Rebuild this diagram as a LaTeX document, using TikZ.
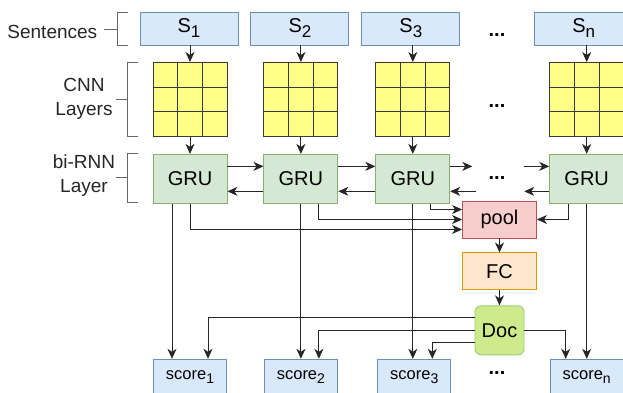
\documentclass[tikz,border=0pt]{standalone}
\usepackage{fontspec}
\setmainfont{Liberation Sans}
\usetikzlibrary{positioning,calc,arrows.meta}
\definecolor{sentfill}{HTML}{DAE8FC}
\definecolor{sentline}{HTML}{6C8EBF}
\definecolor{cnnfill}{HTML}{FFFF88}
\definecolor{cnnline}{HTML}{36393D}
\definecolor{grufill}{HTML}{D5E8D4}
\definecolor{gruline}{HTML}{82B366}
\definecolor{poolfill}{HTML}{F8CECC}
\definecolor{poolline}{HTML}{B85450}
\definecolor{fcfill}{HTML}{FFE6CC}
\definecolor{fcline}{HTML}{D79B00}
\definecolor{docfill}{HTML}{CDEB8B}
\definecolor{docline}{HTML}{97D077}
\newcommand\lowidx[1]{\raisebox{-.25em}{\scalebox{.85}{#1}}}

\begin{document}
\begin{tikzpicture}[x=1pt,y=-1pt,line width=0.9pt,>={Stealth[length=10pt,width=9pt,inset=3pt]},
    sent/.style={draw=sentline,fill=sentfill,minimum width=98pt,minimum height=33pt,inner sep=0pt,font=\fontsize{20}{24}\selectfont},
    cnn/.style={draw=cnnline,fill=cnnfill,minimum width=74pt,minimum height=74pt,inner sep=0pt},
    gru/.style={draw=gruline,fill=grufill,minimum width=74pt,minimum height=49pt,inner sep=0pt,font=\fontsize{20}{24}\selectfont},
    score/.style={draw=sentline,fill=sentfill,minimum width=73pt,minimum height=36pt,inner sep=0pt,font=\fontsize{16.5}{20}\selectfont},
    side/.style={align=center,text=black!85,font=\fontsize{19}{24}\selectfont},
    brk/.style={draw=black!60},
    dots/.style={font=\bfseries\fontsize{20}{24}\selectfont,inner sep=0pt},
    link/.style={->,draw=black!85}]

    \path[use as bounding box] (0,0) rectangle (623,392);
    \clip (0,0) rectangle (623,392);

    % sentences
    \node[sent] (s1) at (189,28.5) {S\lowidx{1}};
    \node[sent, right=12pt of s1] (s2) {S\lowidx{2}};
    \node[sent, right=12pt of s2] (s3) {S\lowidx{3}};
    \node[sent, right=74pt of s3] (sn) {S\lowidx{n}};

    % cnn layers
    \node[cnn, anchor=north] (g1) at (190,62) {};
    \node[cnn, right=36pt of g1] (g2) {};
    \node[cnn, right=37pt of g2] (g3) {};
    \node[cnn, right=99pt of g3] (gn) {};
    \foreach \g in {g1,g2,g3,gn} {
        \foreach \k in {1,2} {
            \draw[cnnline] ($(\g.north west)!\k/3!(\g.north east)$) -- ($(\g.south west)!\k/3!(\g.south east)$);
            \draw[cnnline] ($(\g.north west)!\k/3!(\g.south west)$) -- ($(\g.north east)!\k/3!(\g.south east)$);
        }
    }

    % bi-rnn
    \node[gru, below=17pt of g1] (r1) {GRU};
    \node[gru, below=17pt of g2] (r2) {GRU};
    \node[gru, below=17pt of g3] (r3) {GRU};
    \node[gru, below=17pt of gn] (rn) {GRU};

    % scores
    \node[score, below=155pt of r1] (sc1) {score\lowidx{1}};
    \node[score, below=155pt of r2] (sc2) {score\lowidx{2}};
    \node[score, below=155pt of r3, xshift=1.5pt] (sc3) {score\lowidx{3}};
    \node[score, below=155pt of rn] (scn) {score\lowidx{n}};

    % document branch
    \node[draw=poolline,fill=poolfill,minimum width=74pt,minimum height=37pt,font=\fontsize{20}{24}\selectfont] (pool) at (499.5,219.5) {pool};
    \node[draw=fcline,fill=fcfill,minimum width=74pt,minimum height=37pt,font=\fontsize{20}{24}\selectfont, below=14pt of pool] (fc) {FC};
    \node[draw=docline,fill=docfill,rounded corners=6pt,minimum width=49pt,minimum height=49pt,inner sep=0pt,font=\fontsize{20}{24}\selectfont, below=15pt of fc] (doc) {Doc};

    % dots
    \node[dots] (d1) at (497,35) {...};
    \node[dots] (d2) at (497,106) {...};
    \node[dots] (d3) at (497,178) {...};
    \node[dots] (d4) at (497,373) {...};

    % side labels and brackets
    \node[side, anchor=east] (lsent) at (101,31.5) {Sentences};
    \node[side] (lcnn) at (84,98.5) {CNN\\Layers};
    \node[side] (lrnn) at (84,176) {bi-RNN\\Layer};
    \draw[brk] (128,12) -- (117,12) -- (117,45) -- (128,45);
    \draw[brk] (104,29) -- (117,29);
    \draw[brk] (138,62) -- (127,62) -- (127,136) -- (138,136);
    \draw[brk] (116,99) -- (127,99);
    \draw[brk] (138,153) -- (127,153) -- (127,202) -- (138,202);
    \draw[brk] (116,177.5) -- (127,177.5);

    % vertical flow
    \foreach \i in {1,2,3,n} {
        \draw[link] (s\i.south -| g\i) -- (g\i);
        \draw[link] (g\i) -- (r\i);
    }

    % recurrent links
    \foreach \a/\b in {1/2,2/3} {
        \draw[link] ([yshift=12.5pt]r\a.east) -- ([yshift=12.5pt]r\b.west);
        \draw[link] ([yshift=-12.5pt]r\b.west) -- ([yshift=-12.5pt]r\a.east);
    }
    \draw[link] ([yshift=12.5pt]r3.east) -- ++(22pt,0);
    \draw[link,<-] ([yshift=-12.5pt]r3.east) -- ++(26pt,0);
    \draw[link,<-] ([yshift=12.5pt]rn.west) -- ++(-25pt,0);
    \draw[link] ([yshift=-12.5pt]rn.west) -- ++(-25pt,0);

    % to scores
    \draw[link] ([xshift=-18pt]r1.south) -- ([xshift=-18pt]r1.south |- sc1.north);
    \foreach \i in {2,3,n}
        \draw[link] (r\i.south) -- (r\i.south |- sc\i.north);

    % to pool
    \draw[link] (r1.south) |- ([yshift=-10pt]pool.west);
    \draw[link] ([xshift=18pt]r2.south) |- (pool.west);
    \draw[link] ([xshift=18pt]r3.south) |- ([yshift=10pt]pool.west);
    \draw[link] ([xshift=-18pt]rn.south) |- (pool.east);

    \draw[link] (pool) -- (fc);
    \draw[link] (fc) -- (doc);

    % doc to scores
    \draw[link] ([yshift=12.5pt]doc.west) -| ([xshift=18pt]sc1.north);
    \draw[link] (doc.west) -| ([xshift=18pt]sc2.north);
    \draw[link] ([yshift=-12.5pt]doc.west) -| ([xshift=18pt]sc3.north);
    \draw[link] (doc.east) -| ([xshift=-21pt]scn.north);

\end{tikzpicture}
\end{document}
